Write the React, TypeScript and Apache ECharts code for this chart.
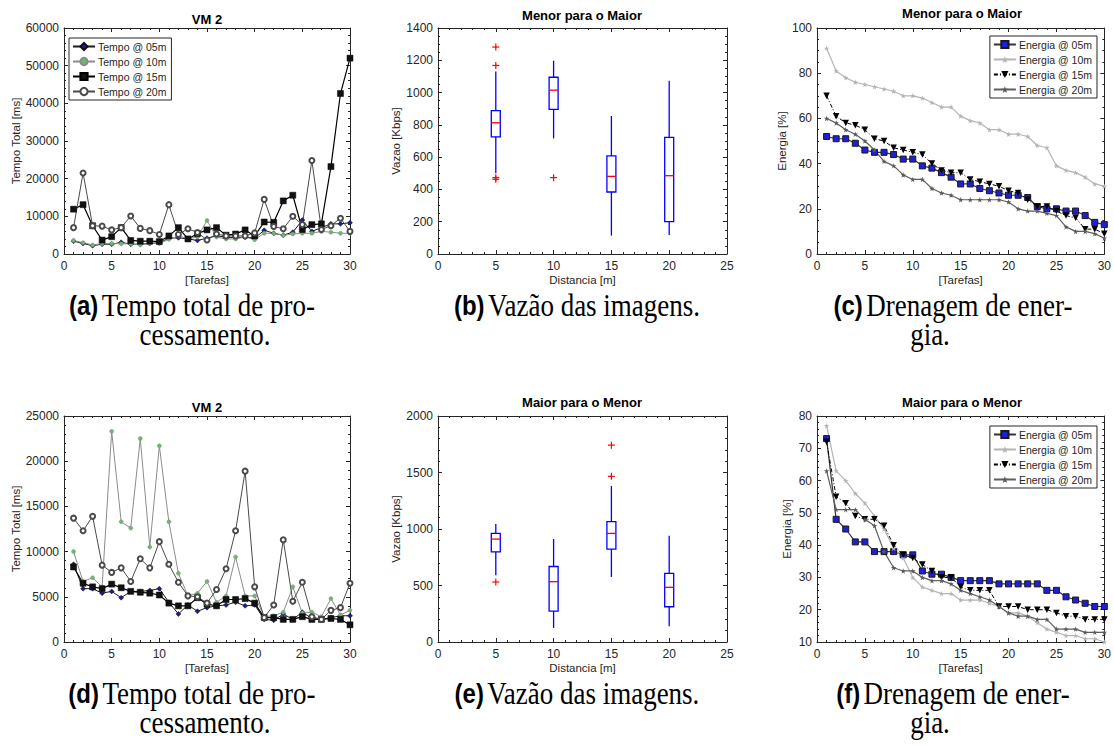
import React, { useEffect, useRef } from "react";
import * as echarts from "echarts";

// ---------- data ----------
const tarefas = [1, 2, 3, 4, 5, 6, 7, 8, 9, 10, 11, 12, 13, 14, 15, 16, 17, 18, 19, 20, 21, 22, 23, 24, 25, 26, 27, 28, 29, 30];

// (a) Tempo total VM 2 - Menor para o Maior
const tempoA05 = [3400, 2800, 2200, 2600, 2600, 3100, 2600, 2600, 2800, 3000, 4200, 4300, 4000, 3600, 4200, 4800, 4500, 4300, 4500, 4200, 6300, 5500, 5000, 5800, 9000, 6000, 7000, 8000, 8000, 8300];
const tempoA10 = [3600, 3000, 2400, 2800, 2800, 2700, 2700, 2400, 2800, 2800, 3900, 4800, 4000, 4500, 8900, 4500, 4000, 4000, 4500, 3800, 5500, 5500, 5000, 5300, 5500, 5500, 6000, 5800, 5500, 5500];
const tempoA15 = [11900, 13100, 7500, 3700, 4600, 7000, 3600, 3400, 3400, 3300, 4800, 7000, 4000, 5400, 6400, 7000, 5000, 5300, 6400, 4800, 8500, 8400, 14100, 15600, 6500, 7800, 8000, 23200, 42600, 52000];
const tempoA20 = [7000, 21500, 7500, 7400, 6400, 7000, 10100, 6800, 6200, 5200, 13100, 5200, 6700, 5700, 3700, 5300, 4800, 4800, 4800, 5600, 14500, 7300, 6700, 10000, 7800, 24800, 6500, 7500, 9500, 6000];

// (d) Tempo total VM 2 - Maior para o Menor
const tempoD05 = [8600, 5900, 5900, 5400, 5600, 4900, 5600, 5600, 5700, 5900, 4400, 3100, 4100, 3400, 3800, 4000, 4100, 4400, 4000, 4100, 2500, 2400, 3100, 2500, 3300, 2600, 2500, 2700, 2900, 2900];
const tempoD10 = [10000, 6700, 7100, 6100, 23300, 13300, 12600, 22500, 10500, 21700, 13300, 7600, 5100, 5400, 6700, 4400, 5100, 9400, 5100, 5100, 2800, 2900, 3300, 6100, 3200, 3300, 2800, 4800, 3000, 3500];
const tempoD15 = [8300, 6500, 6100, 5900, 6400, 6000, 5600, 5500, 5400, 5200, 4300, 4000, 4000, 4900, 4200, 4000, 4700, 4700, 4800, 4300, 2700, 2700, 2500, 2500, 2800, 2500, 2500, 2600, 2500, 1900];
const tempoD20 = [13700, 12300, 13900, 8500, 7700, 8200, 6700, 9200, 8200, 11100, 8600, 6600, 5100, 5000, 4300, 5800, 8100, 12300, 18900, 6100, 2700, 4100, 11300, 4500, 6600, 2800, 2500, 3500, 3800, 6500];

// (c) Energia - Menor para o Maior
const energiaC05 = [52, 51, 51, 49, 46, 45, 45, 44, 42, 42, 39, 38, 36, 34, 31, 31, 29, 28, 27, 26, 26, 25, 21, 20, 20, 19, 19, 17, 14, 13];
const energiaC10 = [91, 81, 78, 76, 75, 74, 73, 72, 70, 70, 69, 67, 65, 65, 61, 59, 58, 55, 55, 53, 53, 52, 48, 47, 39, 37, 36, 34, 31, 30];
const energiaC15 = [70, 61, 58, 57, 55, 51, 50, 47, 46, 45, 44, 40, 37, 36, 36, 33, 32, 31, 30, 28, 27, 24, 21, 21, 19, 17, 16, 11, 11, 9];
const energiaC20 = [60, 58, 55, 53, 50, 46, 41, 39, 35, 33, 33, 29, 27, 26, 24, 24, 24, 24, 24, 23, 20, 19, 19, 18, 17, 12, 10, 10, 9, 7];

// (f) Energia - Maior para o Menor
const energiaF05 = [73, 48, 45, 41, 41, 38, 38, 38, 37, 37, 32, 31, 31, 30, 29, 29, 29, 29, 28, 28, 28, 28, 28, 26, 26, 24, 23, 22, 21, 21];
const energiaF10 = [77, 63, 60, 56, 53, 49, 45, 39, 36, 30, 27, 26, 25, 25, 23, 23, 23, 22, 21, 19, 19, 18, 16, 14, 13, 12, 12, 11, 11, 10];
const energiaF15 = [72, 55, 53, 49, 48, 48, 46, 40, 37, 36, 34, 32, 30, 30, 27, 26, 26, 26, 21, 21, 21, 20, 20, 20, 19, 18, 18, 17, 17, 17];
const energiaF20 = [63, 51, 51, 51, 48, 46, 38, 33, 32, 32, 30, 29, 29, 28, 26, 25, 24, 23, 21, 19, 18, 18, 17, 17, 14, 14, 14, 13, 13, 13];

// (b) / (e) Vazao boxplots: [min, q1, mediana, q3, max]
const distancias = [5, 10, 15, 20];
const vazaoB = [
  [500, 726, 813, 888, 1131],
  [716, 896, 1015, 1095, 1197],
  [114, 384, 481, 608, 855],
  [118, 201, 485, 722, 1073],
];
const outlierDistB = [5, 5, 5, 5, 10];
const outlierValB = [1282, 1168, 473, 463, 473];
const vazaoE = [
  [590, 798, 911, 961, 1045],
  [125, 273, 534, 668, 911],
  [576, 822, 961, 1065, 1380],
  [139, 312, 484, 608, 941],
];
const outlierDistE = [5, 15, 15];
const outlierValE = [531, 1466, 1742];

const tempoNames = ["Tempo @ 05m", "Tempo @ 10m", "Tempo @ 15m", "Tempo @ 20m"];
const energiaNames = ["Energia @ 05m", "Energia @ 10m", "Energia @ 15m", "Energia @ 20m"];

// ---------- styling ----------
const FONT = '"Liberation Sans", Arial, Helvetica, sans-serif';
const SERIF = '"Liberation Serif", "Times New Roman", serif';
const TXT = "#262626";
const STAR = "path://M5,0L6.2,3.6L10,3.6L6.9,5.9L8.1,9.5L5,7.3L1.9,9.5L3.1,5.9L0,3.6L3.8,3.6Z";

const grids = [
  { left: 64, top: 28, width: 286, height: 226 },
  { left: 438, top: 28, width: 289, height: 226 },
  { left: 817, top: 28, width: 290, height: 226 },
  { left: 64, top: 416, width: 286, height: 226 },
  { left: 438, top: 416, width: 289, height: 226 },
  { left: 817, top: 416, width: 290, height: 226 },
];

function axisBase(gi: number, min: number, max: number, interval: number, minor: number) {
  return {
    type: "value",
    gridIndex: gi,
    min,
    max,
    interval,
    axisLine: { show: true, onZero: false, lineStyle: { color: TXT, width: 1 } },
    axisTick: { show: true, inside: true, length: 4, lineStyle: { color: TXT, width: 1 } },
    minorTick: { show: true, splitNumber: minor, length: 2, lineStyle: { color: TXT, width: 1 } },
    splitLine: { show: false },
    minorSplitLine: { show: false },
  };
}

function makeAxes(
  gi: number,
  x: [number, number, number, number],
  y: [number, number, number, number],
  xName: string,
  yName: string,
  yGap: number
) {
  const lbl = { show: true, fontSize: 12, color: TXT, fontFamily: FONT, formatter: (v: number) => String(v) };
  const nameStyle = { fontSize: 11.5, color: TXT, fontFamily: FONT };
  const xa = [
    {
      ...axisBase(gi, x[0], x[1], x[2], x[3]),
      position: "bottom",
      name: xName,
      nameLocation: "middle",
      nameGap: 20,
      nameTextStyle: nameStyle,
      axisLabel: { ...lbl, margin: 6 },
    },
    { ...axisBase(gi, x[0], x[1], x[2], x[3]), position: "top", axisLabel: { show: false } },
  ];
  const ya = [
    {
      ...axisBase(gi, y[0], y[1], y[2], y[3]),
      position: "left",
      name: yName,
      nameLocation: "middle",
      nameGap: yGap,
      nameTextStyle: nameStyle,
      axisLabel: { ...lbl, margin: 5 },
    },
    { ...axisBase(gi, y[0], y[1], y[2], y[3]), position: "right", axisLabel: { show: false } },
  ];
  return { xa, ya };
}

const pairs = (vals: number[]) => vals.map((v, i) => [tarefas[i], v]);

function tempoSeries(gi: number, vals: number[][]) {
  const base = { type: "line", xAxisIndex: gi * 2, yAxisIndex: gi * 2, z: 3 };
  return [
    {
      ...base,
      name: tempoNames[0],
      data: pairs(vals[0]),
      symbol: "diamond",
      symbolSize: 5,
      itemStyle: { color: "#1b1f8a", borderColor: "#111", borderWidth: 0.5 },
      lineStyle: { color: "#1a1a1a", width: 1 },
    },
    {
      ...base,
      name: tempoNames[1],
      data: pairs(vals[1]),
      symbol: "circle",
      symbolSize: 4,
      itemStyle: { color: "#6cb86c", borderColor: "#8a8a8a", borderWidth: 0.5 },
      lineStyle: { color: "#8c8c8c", width: 1 },
    },
    {
      ...base,
      name: tempoNames[2],
      data: pairs(vals[2]),
      symbol: "rect",
      symbolSize: 6,
      itemStyle: { color: "#111", borderColor: "#000", borderWidth: 0.5 },
      lineStyle: { color: "#000", width: 1.2 },
    },
    {
      ...base,
      name: tempoNames[3],
      data: pairs(vals[3]),
      symbol: "emptyCircle",
      symbolSize: 5,
      itemStyle: { color: "#4a4a4a", borderColor: "#4a4a4a", borderWidth: 1 },
      lineStyle: { color: "#4a4a4a", width: 1 },
    },
  ];
}

function energiaSeries(gi: number, vals: number[][]) {
  const base = { type: "line", xAxisIndex: gi * 2, yAxisIndex: gi * 2, z: 3 };
  return [
    {
      ...base,
      name: energiaNames[0],
      data: pairs(vals[0]),
      symbol: "rect",
      symbolSize: 6,
      itemStyle: { color: "#1f1fd6", borderColor: "#1a1a1a", borderWidth: 1 },
      lineStyle: { color: "#333", width: 1.2 },
    },
    {
      ...base,
      name: energiaNames[1],
      data: pairs(vals[1]),
      symbol: STAR,
      symbolSize: 5.5,
      itemStyle: { color: "#b4b4b4" },
      lineStyle: { color: "#b4b4b4", width: 1.2 },
    },
    {
      ...base,
      name: energiaNames[2],
      data: pairs(vals[2]),
      symbol: "triangle",
      symbolRotate: 180,
      symbolSize: 6.5,
      itemStyle: { color: "#000" },
      lineStyle: { color: "#000", width: 1, type: [4, 2, 1, 2] },
    },
    {
      ...base,
      name: energiaNames[3],
      data: pairs(vals[3]),
      symbol: STAR,
      symbolSize: 5.5,
      itemStyle: { color: "#5a5a5a" },
      lineStyle: { color: "#5f5f5f", width: 1.2 },
    },
  ];
}

function boxSeries(gi: number, boxes: number[][], oDist: number[], oVal: number[]) {
  const BLUE = "#0000ff";
  const RED = "#ff0000";
  return [
    {
      type: "custom",
      xAxisIndex: gi * 2,
      yAxisIndex: gi * 2,
      data: boxes.map((b, i) => [distancias[i], ...b]),
      encode: { x: 0, y: [1, 2, 3, 4, 5] },
      renderItem: (_p: any, api: any) => {
        const x = api.value(0);
        const pMin = api.coord([x, api.value(1)]);
        const pQ1 = api.coord([x, api.value(2)]);
        const pMed = api.coord([x, api.value(3)]);
        const pQ3 = api.coord([x, api.value(4)]);
        const pMax = api.coord([x, api.value(5)]);
        const hw = 4.5;
        const ls = { stroke: BLUE, lineWidth: 1.3, fill: "none" };
        return {
          type: "group",
          children: [
            { type: "line", shape: { x1: pMax[0], y1: pMax[1], x2: pQ3[0], y2: pQ3[1] }, style: ls },
            { type: "line", shape: { x1: pQ1[0], y1: pQ1[1], x2: pMin[0], y2: pMin[1] }, style: ls },
            {
              type: "rect",
              shape: { x: pQ3[0] - hw, y: pQ3[1], width: hw * 2, height: pQ1[1] - pQ3[1] },
              style: ls,
            },
            {
              type: "line",
              shape: { x1: pMed[0] - hw, y1: pMed[1], x2: pMed[0] + hw, y2: pMed[1] },
              style: { stroke: RED, lineWidth: 1.3 },
            },
          ],
        };
      },
    },
    {
      type: "custom",
      xAxisIndex: gi * 2,
      yAxisIndex: gi * 2,
      data: oDist.map((d, i) => [d, oVal[i]]),
      encode: { x: 0, y: 1 },
      renderItem: (_p: any, api: any) => {
        const p = api.coord([api.value(0), api.value(1)]);
        const s = 3.5;
        const st = { stroke: RED, lineWidth: 1.2 };
        return {
          type: "group",
          children: [
            { type: "line", shape: { x1: p[0] - s, y1: p[1], x2: p[0] + s, y2: p[1] }, style: st },
            { type: "line", shape: { x1: p[0], y1: p[1] - s, x2: p[0], y2: p[1] + s }, style: st },
          ],
        };
      },
    },
  ];
}

function title(text: string, x: number, y: number) {
  return {
    type: "text",
    x,
    y,
    style: {
      text,
      font: `bold 13px ${FONT}`,
      fill: "#000",
      align: "center",
      verticalAlign: "middle",
      textAlign: "center",
      textVerticalAlign: "middle",
    },
  };
}

function caption(label: string, text: string, x: number, y: number) {
  return {
    type: "text",
    x,
    y,
    scaleY: 1.15,
    style: {
      text: label ? `{b|${label}} {r|${text}}` : `{r|${text}}`,
      align: "center",
      verticalAlign: "middle",
      textAlign: "center",
      textVerticalAlign: "middle",
      fill: "#000",
      rich: {
        b: { font: `bold 24px ${FONT}`, fill: "#000" },
        r: { font: `27px ${SERIF}`, fill: "#000" },
      },
    },
  };
}

function legend(names: string[], pos: any) {
  return {
    data: names,
    orient: "vertical",
    ...pos,
    padding: [3, 5, 3, 3],
    itemGap: 4,
    itemWidth: 22,
    itemHeight: 9,
    borderColor: TXT,
    borderWidth: 1,
    borderRadius: 0,
    backgroundColor: "#fff",
    selectedMode: false,
    textStyle: { fontSize: 10.5, color: TXT, fontFamily: FONT, padding: [0, 0, 0, -2] },
  };
}

export default function App() {
  const ref = useRef<HTMLDivElement>(null);
  useEffect(() => {
    if (!ref.current) return;
    const chart = echarts.init(ref.current, null, { renderer: "svg", width: 1114, height: 745 });

    const axA = makeAxes(0, [0, 30, 5, 5], [0, 60000, 10000, 5], "[Tarefas]", "Tempo Total [ms]", 35);
    const axB = makeAxes(1, [0, 25, 5, 5], [0, 1400, 200, 4], "Distancia [m]", "Vazao [Kbps]", 33);
    const axC = makeAxes(2, [0, 30, 5, 5], [0, 100, 20, 4], "[Tarefas]", "Energia [%]", 29);
    const axD = makeAxes(3, [0, 30, 5, 5], [0, 25000, 5000, 5], "[Tarefas]", "Tempo Total [ms]", 35);
    const axE = makeAxes(4, [0, 25, 5, 5], [0, 2000, 500, 5], "Distancia [m]", "Vazao [Kbps]", 33);
    const axF = makeAxes(5, [0, 30, 5, 5], [10, 80, 10, 5], "[Tarefas]", "Energia [%]", 24);
    const all = [axA, axB, axC, axD, axE, axF];

    const option: any = {
      animation: false,
      backgroundColor: "#fff",
      textStyle: { fontFamily: FONT },
      grid: grids.map((g) => ({ ...g, containLabel: false })),
      xAxis: all.flatMap((a) => a.xa),
      yAxis: all.flatMap((a) => a.ya),
      legend: [
        legend(tempoNames, { left: 69, top: 38 }),
        legend(energiaNames, { right: 17, top: 36 }),
        legend(energiaNames, { right: 17, top: 426 }),
      ],
      series: [
        ...tempoSeries(0, [tempoA05, tempoA10, tempoA15, tempoA20]),
        ...boxSeries(1, vazaoB, outlierDistB, outlierValB),
        ...energiaSeries(2, [energiaC05, energiaC10, energiaC15, energiaC20]),
        ...tempoSeries(3, [tempoD05, tempoD10, tempoD15, tempoD20]),
        ...boxSeries(4, vazaoE, outlierDistE, outlierValE),
        ...energiaSeries(5, [energiaF05, energiaF10, energiaF15, energiaF20]),
      ],
      graphic: [
        title("VM 2", 207, 19),
        title("Menor para o Maior", 582, 15),
        title("Menor para o Maior", 962, 13),
        title("VM 2", 207, 407),
        title("Maior para o Menor", 582, 402),
        title("Maior para o Menor", 962, 402),
        caption("(a)", "Tempo total de pro-", 192, 305),
        caption("", "cessamento.", 205, 334),
        caption("(b)", "Vazão das imagens.", 577, 305),
        caption("(c)", "Drenagem de ener-", 953, 305),
        caption("", "gia.", 930, 334),
        caption("(d)", "Tempo total de pro-", 192, 693),
        caption("", "cessamento.", 205, 722),
        caption("(e)", "Vazão das imagens.", 577, 693),
        caption("(f)", "Drenagem de ener-", 953, 693),
        caption("", "gia.", 930, 722),
      ],
    };
    chart.setOption(option);
    return () => chart.dispose();
  }, []);
  return (
    <div
      ref={ref}
      style={{ position: "absolute", left: 0, top: 0, width: 1114, height: 745, background: "#fff" }}
    />
  );
}
